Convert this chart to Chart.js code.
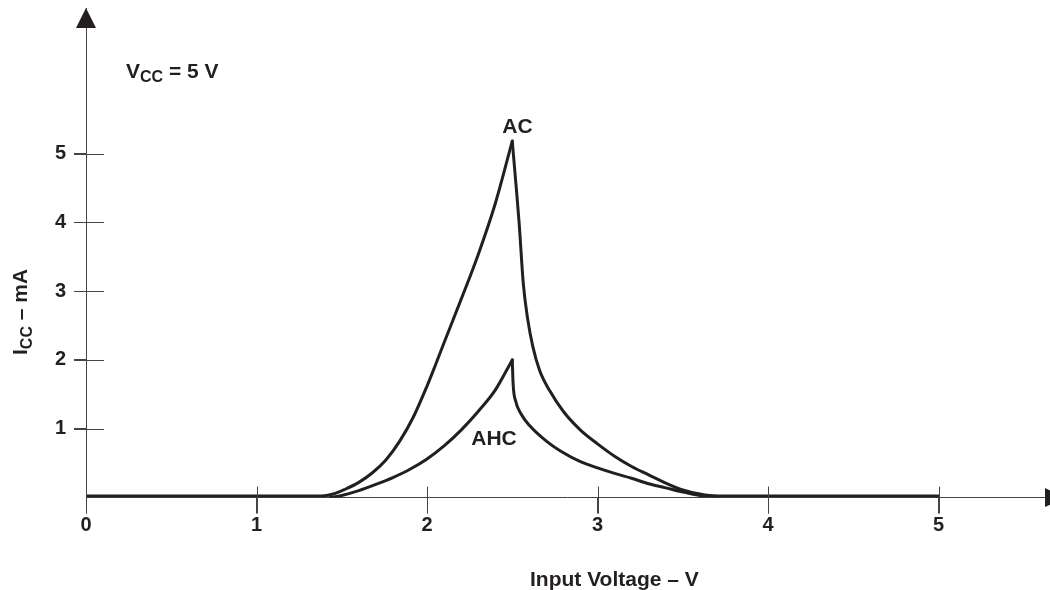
<!DOCTYPE html>
<html>
<head>
<meta charset="utf-8">
<script src="https://cdn.jsdelivr.net/npm/chart.js@4/dist/chart.umd.min.js"></script>
<style>
  html, body { margin: 0; padding: 0; background: #ffffff; }
  #wrap { width: 1050px; height: 590px; position: relative; }
</style>
</head>
<body>
<div id="wrap"><canvas id="c" width="1050" height="590"></canvas></div>
<script>
// ---- data ----
const xTicks = [0, 1, 2, 3, 4, 5];
const yTicks = [1, 2, 3, 4, 5];

// AC curve (rising side, including the flat baseline from 0 V)
const acRiseX = [0, 1.0, 1.38, 1.45, 1.52, 1.6, 1.68, 1.76, 1.84, 1.92, 2.0, 2.05, 2.1, 2.2, 2.3, 2.4, 2.5];
const acRiseY = [0.02, 0.02, 0.02, 0.05, 0.12, 0.22, 0.36, 0.55, 0.82, 1.17, 1.62, 1.93, 2.25, 2.88, 3.53, 4.27, 5.18];
// AC curve (falling side, including the flat baseline to 5 V)
const acFallX = [2.5, 2.52, 2.54, 2.565, 2.59, 2.62, 2.66, 2.72, 2.8, 2.9, 3.0, 3.1, 3.2, 3.3, 3.4, 3.5, 3.6, 3.7, 4.5, 5.0];
const acFallY = [5.18, 4.6, 4.0, 3.1, 2.6, 2.2, 1.85, 1.55, 1.25, 0.98, 0.78, 0.6, 0.45, 0.33, 0.21, 0.11, 0.05, 0.02, 0.02, 0.02];
// AHC curve
const ahcRiseX = [1.43, 1.5, 1.6, 1.7, 1.8, 1.9, 2.0, 2.1, 2.2, 2.3, 2.4, 2.5];
const ahcRiseY = [0.0, 0.03, 0.1, 0.19, 0.29, 0.41, 0.56, 0.75, 0.98, 1.25, 1.56, 2.0];
const ahcFallX = [2.5, 2.505, 2.52, 2.55, 2.6, 2.7, 2.8, 2.9, 3.0, 3.1, 3.2, 3.3, 3.4, 3.5, 3.6, 3.7];
const ahcFallY = [2.0, 1.65, 1.4, 1.22, 1.05, 0.82, 0.65, 0.52, 0.43, 0.35, 0.28, 0.2, 0.14, 0.08, 0.03, 0.02];

const curveLabels = ['AC', 'AHC'];
const xTitle = 'Input Voltage – V';

const INK = '#231f20';
const AXIS = '#444444';
const FONT = '"Liberation Sans", Arial, Helvetica, sans-serif';

function pts(xs, ys) { return xs.map((x, i) => ({ x: x, y: ys[i] })); }
function ds(label, xs, ys) {
  return {
    label: label,
    data: pts(xs, ys),
    borderColor: INK,
    borderWidth: 3,
    pointRadius: 0,
    fill: false,
    cubicInterpolationMode: 'monotone',
    borderCapStyle: 'round',
    borderJoinStyle: 'round'
  };
}

const decor = {
  id: 'decor',
  afterDraw(chart) {
    const ctx = chart.ctx;
    const xs = chart.scales.x, ys = chart.scales.y;
    const ca = chart.chartArea;
    ctx.save();
    // tick marks crossing the axes
    ctx.strokeStyle = AXIS;
    ctx.lineWidth = 1;
    ctx.beginPath();
    xTicks.forEach(v => {
      const px = Math.round(xs.getPixelForValue(v)) + 0.5;
      ctx.moveTo(px, ca.bottom + 16); ctx.lineTo(px, ca.bottom - 11);
    });
    yTicks.forEach(v => {
      const py = Math.round(ys.getPixelForValue(v)) + 0.5;
      ctx.moveTo(ca.left - 12, py); ctx.lineTo(ca.left + 18, py);
    });
    ctx.stroke();

    // arrows
    ctx.fillStyle = INK;
    const ax = xs.getPixelForValue(0);
    ctx.beginPath();
    ctx.moveTo(ax, ca.top); ctx.lineTo(ax - 10, ca.top + 20); ctx.lineTo(ax + 10, ca.top + 20);
    ctx.closePath(); ctx.fill();
    const ay = ys.getPixelForValue(0);
    ctx.beginPath();
    ctx.moveTo(ca.right - 3, ay - 9.5); ctx.lineTo(ca.right + 17, ay); ctx.lineTo(ca.right - 3, ay + 9.5);
    ctx.closePath(); ctx.fill();

    // texts
    ctx.fillStyle = INK;
    ctx.textBaseline = 'alphabetic';
    ctx.textAlign = 'left';
    // VCC = 5 V
    let x = 126, y = 78;
    ctx.font = 'bold 21px ' + FONT;
    ctx.fillText('V', x, y); x += ctx.measureText('V').width;
    ctx.font = 'bold 16px ' + FONT;
    ctx.fillText('CC', x, y + 4); x += ctx.measureText('CC').width;
    ctx.font = 'bold 21px ' + FONT;
    ctx.fillText(' = 5 V', x, y);

    // curve labels
    ctx.font = 'bold 21px ' + FONT;
    ctx.textAlign = 'center';
    ctx.fillText(curveLabels[0], 517.5, 133);
    ctx.fillText(curveLabels[1], 494, 445);

    // x title
    ctx.textAlign = 'left';
    ctx.font = 'bold 21px ' + FONT;
    ctx.fillText(xTitle, 530, 586);

    // y title (rotated) I_CC – mA
    ctx.save();
    ctx.translate(27, 355);
    ctx.rotate(-Math.PI / 2);
    let t = 0;
    ctx.font = 'bold 21px ' + FONT;
    ctx.fillText('I', t, 0); t += ctx.measureText('I').width;
    ctx.font = 'bold 16px ' + FONT;
    ctx.fillText('CC', t, 5); t += ctx.measureText('CC').width;
    ctx.font = 'bold 21px ' + FONT;
    ctx.fillText(' – mA', t, 0);
    ctx.restore();

    ctx.restore();
  }
};

new Chart(document.getElementById('c'), {
  type: 'line',
  data: {
    datasets: [
      ds('AC', acRiseX, acRiseY),
      ds('AC', acFallX, acFallY),
      ds('AHC', ahcRiseX, ahcRiseY),
      ds('AHC', ahcFallX, ahcFallY)
    ]
  },
  options: {
    responsive: false,
    animation: false,
    devicePixelRatio: 1,
    layout: { padding: { left: 0, top: 8, right: 2, bottom: 0 } },
    plugins: { legend: { display: false }, tooltip: { enabled: false }, title: { display: false } },
    scales: {
      x: {
        type: 'linear',
        min: 0, max: 5.642,
        afterBuildTicks: s => { s.ticks = xTicks.map(v => ({ value: v })); },
        afterFit: s => { s.height = 92.5; s.paddingLeft = 0; s.paddingRight = 0; },
        grid: { drawOnChartArea: false, drawTicks: true, tickLength: 16, color: AXIS, lineWidth: 1 },
        border: { display: true, color: AXIS, width: 1 },
        ticks: { autoSkip: false, maxRotation: 0, padding: 0, color: INK, font: { family: FONT, size: 20, weight: 'bold' } }
      },
      y: {
        type: 'linear',
        min: 0, max: 7.115,
        afterBuildTicks: s => { s.ticks = yTicks.map(v => ({ value: v })); },
        afterFit: s => { s.width = 86; s.paddingTop = 0; s.paddingBottom = 0; },
        grid: { drawOnChartArea: false, drawTicks: true, tickLength: 12, color: AXIS, lineWidth: 1 },
        border: { display: true, color: AXIS, width: 1 },
        ticks: { padding: 8, color: INK, font: { family: FONT, size: 20, weight: 'bold' } }
      }
    }
  },
  plugins: [decor]
});
</script>
</body>
</html>
